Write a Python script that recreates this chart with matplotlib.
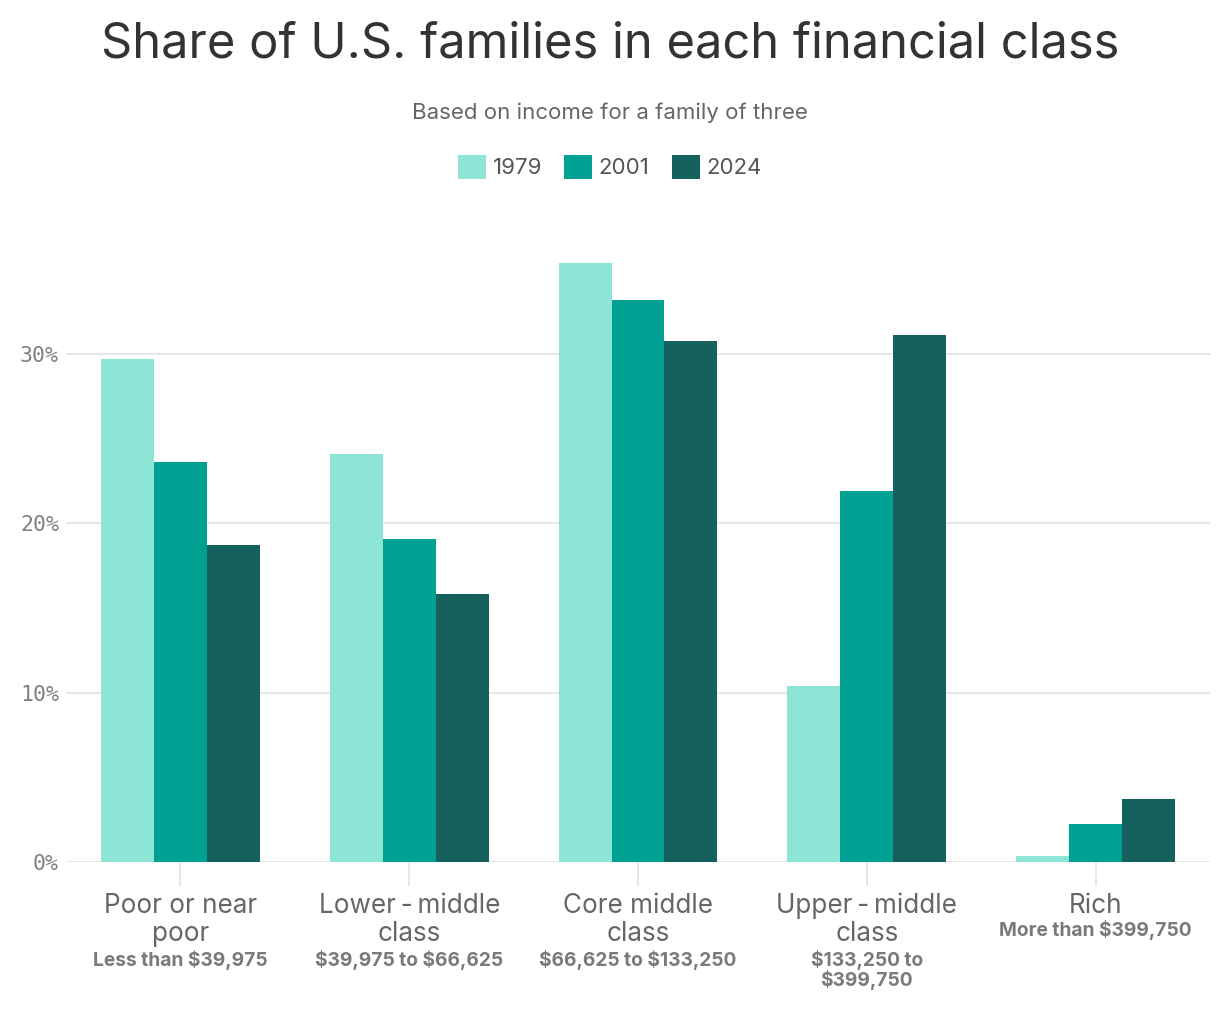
import matplotlib.pyplot as plt
import numpy as np
from matplotlib.patches import Patch

# data (percent of families)
classes = ['Poor or near\npoor', 'Lower-middle\nclass', 'Core middle\nclass',
           'Upper-middle\nclass', 'Rich']
ranges = ['Less than \\$39,975', '\\$39,975 to \\$66,625', '\\$66,625 to \\$133,250',
          '\\$133,250 to\n\\$399,750', 'More than \\$399,750']
years = ['1979', '2001', '2024']
share_1979 = [29.7, 24.1, 35.4, 10.4, 0.35]
share_2001 = [23.6, 19.1, 33.2, 21.9, 2.25]
share_2024 = [18.7, 15.8, 30.8, 31.1, 3.7]
yticks = [0, 10, 20, 30]

colors = ['#8de5d6', '#00a192', '#14615d']
title_color = '#333333'
text_color = '#666666'
grid_color = '#e3e3e3'

plt.rcParams['font.family'] = ['Inter', 'DejaVu Sans']

fig = plt.figure(figsize=(12.2, 10.18), dpi=100)
ax = fig.add_axes([66 / 1220, 1 - 862 / 1018, 1144 / 1220, (862 - 252.5) / 1018])

x = np.arange(len(classes))
w = 0.2314
for k, (vals, c) in enumerate(zip([share_1979, share_2001, share_2024], colors)):
    ax.bar(x + (k - 1) * w, vals, width=w, color=c, zorder=3, linewidth=0)

ax.set_xlim(-0.5, len(classes) - 0.5)
ax.set_ylim(0, 36)
ax.set_yticks(yticks)
ax.set_yticklabels([f'{t}%' for t in yticks], family='DejaVu Sans Mono',
                   fontsize=15.5, color='#808080')
ax.grid(axis='y', color=grid_color, linewidth=1.2, zorder=0)
ax.tick_params(axis='y', length=0, pad=5)
ax.set_xticks(x)
ax.set_xticklabels([])
ax.tick_params(axis='x', length=17, width=1.2, color=grid_color)
for s in ax.spines.values():
    s.set_visible(False)

# category labels and income ranges under each group
for i, (name, rng) in enumerate(zip(classes, ranges)):
    ax.annotate(name.replace('-', '\u2009-\u2009'),
                xy=(i, 0), xycoords=('data', 'axes fraction'),
                xytext=(0, -22), textcoords='offset points',
                ha='center', va='top', fontsize=18.8, color=text_color,
                linespacing=1.12)
    nlines = name.count('\n') + 1
    ax.annotate(rng, xy=(i, 0), xycoords=('data', 'axes fraction'),
                xytext=(0, -20 - 21.5 * nlines), textcoords='offset points',
                ha='center', va='top', fontsize=13.8, fontweight='bold',
                color='#7a7a7a', linespacing=1.0)

fig.text(0.5, 1 - 45 / 1018, 'Share of U.S. families in each financial class',
         ha='center', va='center', fontsize=35.2, color=title_color)
fig.text(0.5, 1 - 113 / 1018, 'Based on income for a family of three',
         ha='center', va='center', fontsize=16, color=text_color)

handles = [Patch(facecolor=c, edgecolor='none') for c in colors]
fig.legend(handles, years, loc='center', bbox_to_anchor=(0.5, 1 - 167 / 1018),
           ncol=3, frameon=False, fontsize=16, labelcolor='#555555',
           handlelength=1.25, handleheight=1.25, handletextpad=0.3,
           columnspacing=1.0)

fig.savefig('out.png', dpi=100)
